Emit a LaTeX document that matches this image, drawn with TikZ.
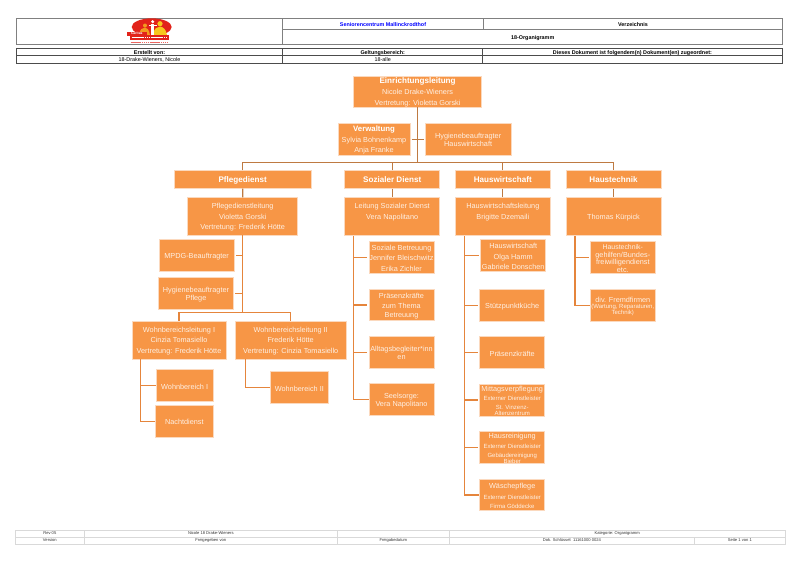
\documentclass[tikz,border=0pt]{standalone}
\usepackage{fontspec}
\setmainfont{Liberation Sans}
\definecolor{boxfill}{HTML}{F79646}
\definecolor{boxedge}{HTML}{FBD9BE}
\definecolor{boxtext}{HTML}{FEF0E4}
\definecolor{topline}{HTML}{BE7A42}
\definecolor{subline}{HTML}{E5853C}
\definecolor{logored}{HTML}{E2231A}
\definecolor{logoyel}{HTML}{F7C81E}
\definecolor{logoora}{HTML}{F39A1E}
\newcommand{\bx}[7][box]{\node[#1,minimum width={(#5-#3)*1pt},minimum height={(#6-#4)*1pt}] (#2) at ({(#3+#5)/2},{(#4+#6)/2}) {};
\node[#1,draw=none,fill=none,tshift] (#2t) at (#2.center) {#7};}
\newcommand{\sm}[1]{{\fontsize{6}{6}\selectfont #1}}
\newcommand{\ti}[1]{{\bfseries\color{white}#1}}
\tikzset{
 tshift/.style={yshift=-1pt},
 box/.style={draw=boxedge,line width=.6pt,fill=boxfill,text=boxtext,inner sep=0pt,align=center,font=\fontsize{7.3}{10.7}\selectfont},
 head/.style={box,font=\fontsize{8.1}{10.7}\selectfont\bfseries,text=white,text height=5.8pt,text depth=1.6pt},
 cellA/.style={draw=black!50,line width=.8pt,inner sep=0pt,align=center,font=\fontsize{5.4}{6}\selectfont\bfseries,text height=3.9pt,text depth=1.1pt},
 cellB/.style={draw=black!70,line width=.8pt,inner sep=0pt,align=center,font=\fontsize{5.4}{6}\selectfont,text height=3.9pt,text depth=1.1pt},
 cellC/.style={draw=black!15,line width=.5pt,inner sep=0pt,align=center,text=black!80,font=\fontsize{4.1}{5}\selectfont,text height=3pt,text depth=.9pt},
 topc/.style={topline,line width=1.3pt},
 subc/.style={subline,line width=1.3pt},
 branch/.style={subc,shorten >=1.5pt},
}
\begin{document}
\begin{tikzpicture}[x=1pt,y=-1pt]
\useasboundingbox (0,0) rectangle (800,566);
\fill[white] (0,0) rectangle (800,566);
% header
\bx[cellA]{hlogo}{16.3}{18.3}{282.7}{44}{}
\bx[cellA]{hname}{282.7}{18.3}{483.3}{29.7}{\textcolor{blue}{Seniorencentrum Mallinckrodthof}}
\bx[cellA]{hverz}{483.3}{18.3}{782.7}{29.7}{Verzeichnis}
\bx[cellA]{htitle}{282.7}{29.7}{782.7}{44}{18-Organigramm}
\bx[cellB]{ha}{16.3}{48}{282.7}{55.7}{\bfseries Erstellt von:}
\bx[cellB]{hb}{282.7}{48}{482.7}{55.7}{\bfseries Geltungsbereich:}
\bx[cellB]{hc}{482.7}{48}{782}{55.7}{\bfseries Dieses Dokument ist folgendem(n) Dokument(en) zugeordnet:}
\bx[cellB]{hd}{16.3}{55.7}{282.7}{63.3}{18-Drake-Wieners, Nicole}
\bx[cellB]{he}{282.7}{55.7}{482.7}{63.3}{18-alle}
\bx[cellB]{hf}{482.7}{55.7}{782}{63.3}{}
% logo
\fill[logored] (151.7,27) ellipse [x radius=20,y radius=8.7];
\fill[white] (125,35.5) rectangle (175,43.5);
\fill[logoora] (139,35) .. controls (140,29) and (142,28) .. (145,27.5) .. controls (147,28) and (149,29) .. (150,35) -- cycle;
\fill[logoora] (145,25.5) circle (2);
\fill[logoyel] (153,35) .. controls (154,28) and (157,27) .. (160,26.5) .. controls (163,27) and (166,29) .. (167,35) -- cycle;
\fill[logoyel] (160,23.7) circle (2.6);
\fill[white] (151.3,24) rectangle (154,35);
\fill[white] (152.7,21.7) circle (1.7);
\fill[white] (148.5,24.6) rectangle (157,26);
\fill[logored] (127,31.7) rectangle (146.7,35.7);
\node[inner sep=0pt,text=white,font=\fontsize{3.4}{4}\selectfont\bfseries] (logoname) at (136.8,33.7) {Caritas};
\fill[logored] (130,35.2) rectangle (169,39.7);
\draw[white,line width=.6pt,dash pattern=on 1.5pt off .4pt] (131.5,37.5) -- (167.5,37.5);
\draw[logored!70,line width=.8pt,dash pattern=on 1.4pt off .5pt] (130.5,42.4) -- (168,42.4);
% top
\bx{el}{353.5}{76}{481.7}{107}{\ti{\fontsize{8.1}{10.7}\selectfont Einrichtungsleitung}\\Nicole Drake-Wieners\\Vertretung: Violetta Gorski}
\bx{vw}{338}{123.3}{410}{155}{\ti{\fontsize{7.8}{10.7}\selectfont Verwaltung}\\Sylvia Bohnenkamp\\Anja Franke}
\bx{hyg}{425.3}{123.3}{511}{155}{Hygienebeauftragter\\[-2.5pt]Hauswirtschaft}
% level 2
\bx[head]{pd}{174.3}{170.7}{311}{188.3}{Pflegedienst}
\bx[head]{sd}{344.7}{170.7}{439.7}{188.3}{Sozialer Dienst}
\bx[head]{hw}{455.3}{170.7}{550.3}{188.3}{Hauswirtschaft}
\bx[head]{ht}{566}{170.7}{661}{188.3}{Haustechnik}
% level 3
\bx{pdl}{187.7}{197.7}{297.7}{235}{Pflegedienstleitung\\Violetta Gorski\\Vertretung: Frederik Hötte}
\bx{sdl}{344.7}{197.7}{439.7}{235}{Leitung Sozialer Dienst\\Vera Napolitano\\[1pt]~}
\bx{hwl}{455.3}{197.7}{550.3}{235}{Hauswirtschaftsleitung\\Brigitte Dzemaili\\[1pt]~}
\bx{htl}{566}{197.7}{661}{235}{Thomas Kürpick}
% Pflege
\bx{mpdg}{159.3}{239.7}{234}{271.3}{MPDG-Beauftragter}
\bx{hygp}{158.7}{277.7}{233.3}{309}{Hygienebeauftragter\\[-2.5pt]Pflege}
\bx{wbl1}{132}{321}{226}{359}{Wohnbereichsleitung I\\Cinzia Tomasiello\\Vertretung: Frederik Hötte}
\bx{wbl2}{235}{321}{346.3}{359}{Wohnbereichsleitung II\\Frederik Hötte\\Vertretung: Cinzia Tomasiello}
\bx{wb1}{156}{369.7}{213.3}{401.3}{Wohnbereich I}
\bx{nd}{155.7}{405.3}{213}{437}{Nachtdienst}
\bx{wb2}{270.7}{371.7}{328}{403.3}{Wohnbereich II}
% Sozial
\bx{s1}{369}{241.3}{434}{273.3}{Soziale Betreuung\\Jennifer Bleischwitz\\Erika Zichler}
\bx{s2}{369}{289}{434}{320.7}{Präsenzkräfte\\zum Thema\\[-2.5pt]Betreuung}
\bx{s3}{369}{336.3}{434}{368}{Alltagsbegleiter*inn\\[-3pt]en}
\bx{s4}{369}{383.7}{434}{415.3}{Seelsorge:\\[-2.5pt]Vera Napolitano}
% Hauswirtschaft
\bx{w1}{480.7}{239.7}{545.7}{271.3}{Hauswirtschaft\\Olga Hamm\\Gabriele Donschen}
\bx{w2}{479.7}{289.3}{544.7}{321}{Stützpunktküche}
\bx{w3}{479.7}{336.7}{544.7}{368.3}{Präsenzkräfte}
\bx{w4}{479.7}{384}{544.7}{416}{Mittagsverpflegung\\[-1pt]\sm{Externer Dienstleister}\\[-1.7pt]\sm{St. Vinzenz-}\\[-4.7pt]\sm{Altenzentrum}}
\bx{w5}{479.7}{431.7}{544.7}{463.3}{Hausreinigung\\[-1pt]\sm{Externer Dienstleister}\\[-1.7pt]\sm{Gebäudereinigung}\\[-4pt]\sm{Bieber}}
\bx{w6}{479.7}{479.3}{544.7}{510.7}{Wäschepflege\\[.2pt]\sm{Externer Dienstleister}\\[-1.7pt]\sm{Firma Göddecke}}
% Haustechnik
\bx{t1}{590.3}{241.7}{655.3}{273.3}{\fontsize{6.9}{7.6}\selectfont Haustechnik-\\[-3pt]gehilfen/Bundes-\\[-3pt]freiwilligendienst\\[-3pt]etc.}
\bx{t2}{590.3}{289.3}{655.3}{321}{div. Fremdfirmen\\[-4.5pt]\sm{(Wartung, Reparaturen,}\\[-5pt]\sm{Technik)}}
% footer
\tikzset{tshift/.style={}}
\bx[cellC]{f1}{15.3}{530.3}{84.3}{537.3}{Rev 05}
\bx[cellC]{f2}{84.3}{530.3}{337.3}{537.3}{Nicole 18 Drake-Wieners}
\bx[cellC]{f3}{337.3}{530.3}{449.3}{537.3}{}
\bx[cellC]{f4}{449.3}{530.3}{785}{537.3}{Kategorie: Organigramm}
\bx[cellC]{f5}{15.3}{537.3}{84.3}{544.3}{Version}
\bx[cellC]{f6}{84.3}{537.3}{337.3}{544.3}{Freigegeben von}
\bx[cellC]{f7}{337.3}{537.3}{449.3}{544.3}{Freigabedatum}
\bx[cellC]{f8}{449.3}{537.3}{694.7}{544.3}{Dok. Schlüssel: 11161000 0024}
\bx[cellC]{f9}{694.7}{537.3}{785}{544.3}{Seite 1 von 1}
% connector helpers
\coordinate (bus) at (417.7,162.7);
\coordinate (tp) at (242.7,312.7);
\coordinate (ts) at (353.7,236);
\coordinate (tw) at (464.3,236);
\coordinate (tt) at (575,236);
\coordinate (tw1) at (140.7,359);
\coordinate (tw2) at (245.3,359);
\coordinate (cl) at (411.7,139.3);
\coordinate (cr) at (424,139.3);
% top connectors
\draw[topc] (bus |- el.south) -- (bus);
\draw[topc] (cl) -- (cr);
\draw[topc] (pd.north) |- (bus -| ht.north) -- (ht.north);
\draw[topc] (sd.north) -- (sd.north |- bus);
\draw[topc] (hw.north) -- (hw.north |- bus);
% level links
\draw[topc] (pd.south) -- (pdl.north);
\draw[topc] (sd.south) -- (sdl.north);
\draw[topc] (hw.south) -- (hwl.north);
\draw[topc] (ht.south) -- (htl.north);
% Pflege
\draw[subc] (pdl.south) -- (pdl.south |- tp);
\draw[branch] (pdl.south |- mpdg.east) -- (mpdg.east);
\draw[branch] (pdl.south |- hygp.east) -- (hygp.east);
\draw[subc] (wbl1.north -| 179,0) |- (tp) -| (wbl2.north -| 290.3,0);
\draw[subc] (tw1) |- (nd.west);
\draw[subc] (tw1 |- wb1.west) -- (wb1.west);
\draw[subc] (tw2) |- (wb2.west);
% Sozial
\draw[subc] (ts) |- (s4.west);
\draw[branch] (ts |- s1.west) -- (s1.west);
\draw[branch] (ts |- s2.west) -- (s2.west);
\draw[branch] (ts |- s3.west) -- (s3.west);
% HW
\draw[subc] (tw) |- (w6.west);
\draw[branch] (tw |- w1.west) -- (w1.west);
\draw[branch] (tw |- w2.west) -- (w2.west);
\draw[branch] (tw |- w3.west) -- (w3.west);
\draw[branch] (tw |- w4.west) -- (w4.west);
\draw[branch] (tw |- w5.west) -- (w5.west);
% HT
\draw[subc] (tt) |- (t2.west);
\draw[branch] (tt |- t1.west) -- (t1.west);
\end{tikzpicture}
\end{document}
